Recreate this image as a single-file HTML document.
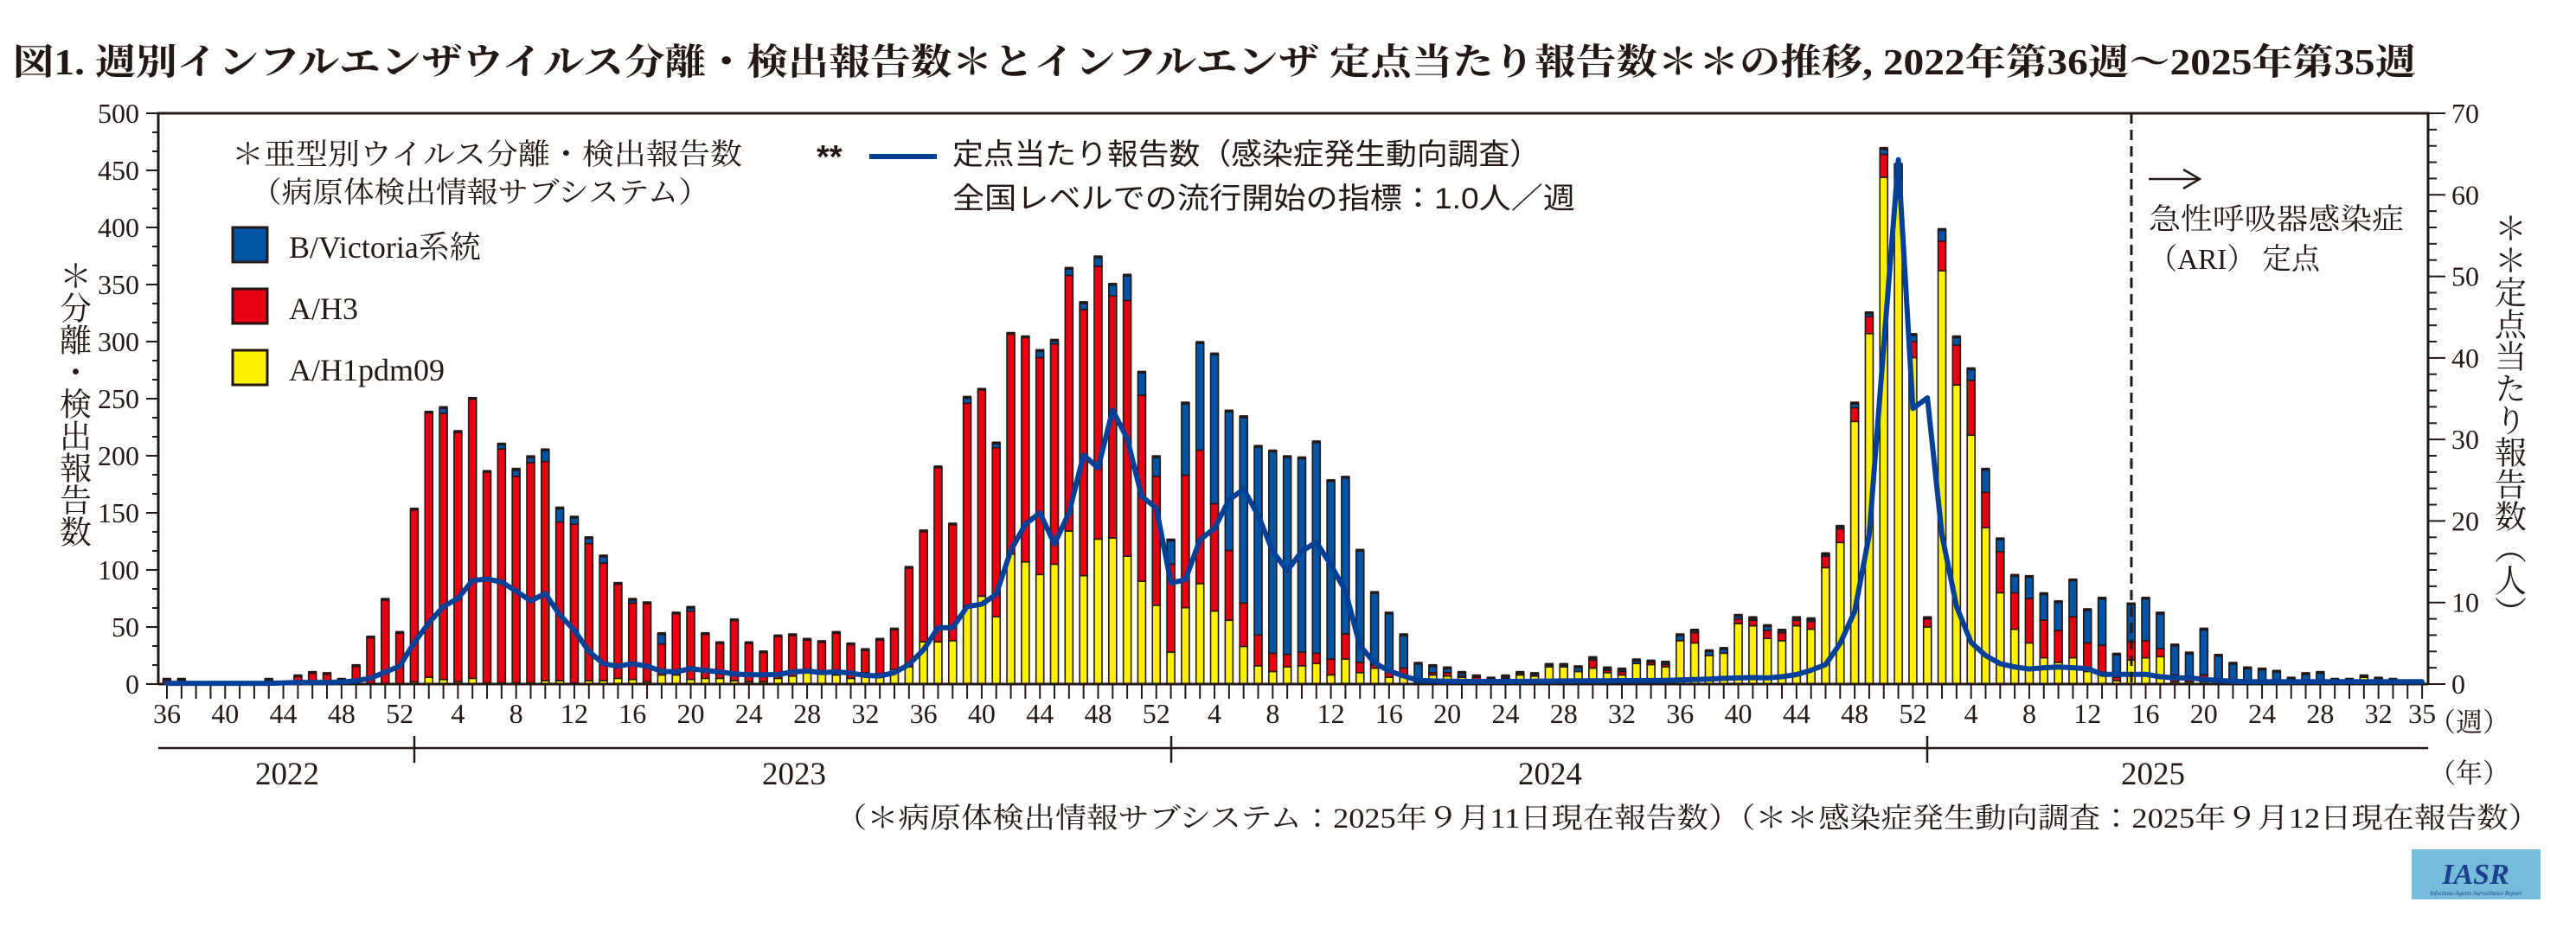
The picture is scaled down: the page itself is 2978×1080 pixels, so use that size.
<!DOCTYPE html>
<html><head><meta charset="utf-8">
<style>
html,body{margin:0;padding:0;background:#fff;}
svg{display:block;}
.s{font-family:"Liberation Serif","Noto Serif CJK JP","Noto Serif CJK SC",serif;fill:#231815;}
.g{font-family:"Liberation Sans","Noto Sans CJK JP",sans-serif;fill:#231815;}
</style></head>
<body>
<svg id="c" xmlns="http://www.w3.org/2000/svg" width="2978" height="1080" viewBox="0 0 2978 1080">
<rect width="2978" height="1080" fill="#fff"/>
<text class="s" x="15" y="86" font-size="42" font-weight="bold" textLength="2778" lengthAdjust="spacingAndGlyphs">図1. 週別インフルエンザウイルス分離・検出報告数＊とインフルエンザ 定点当たり報告数＊＊の推移, 2022年第36週～2025年第35週</text>
<g id="plot"></g>
<!-- legend left -->
<text class="s" x="268" y="190" font-size="34" textLength="590" lengthAdjust="spacingAndGlyphs">＊亜型別ウイルス分離・検出報告数</text>
<text class="s" x="290" y="234" font-size="34" textLength="530" lengthAdjust="spacingAndGlyphs">（病原体検出情報サブシステム）</text>
<rect x="269" y="263" width="40" height="40" fill="#0054a6" stroke="#231815" stroke-width="3"/>
<rect x="269" y="334" width="40" height="40" fill="#e60012" stroke="#231815" stroke-width="3"/>
<rect x="269" y="405" width="40" height="40" fill="#fff100" stroke="#231815" stroke-width="3"/>
<text class="s" x="334" y="298" font-size="36">B/Victoria系統</text>
<text class="s" x="334" y="369" font-size="36">A/H3</text>
<text class="s" x="334" y="440" font-size="36">A/H1pdm09</text>
<!-- legend middle -->
<text class="g" x="944" y="194" font-size="38" font-weight="bold">**</text>
<line x1="1005" y1="181" x2="1083" y2="181" stroke="#004098" stroke-width="6"/>
<text class="g" x="1101" y="190" font-size="34" textLength="680" lengthAdjust="spacingAndGlyphs">定点当たり報告数（感染症発生動向調査）</text>
<text class="g" x="1101" y="241" font-size="34" textLength="720" lengthAdjust="spacingAndGlyphs">全国レベルでの流行開始の指標：1.0人／週</text>
<!-- ARI -->
<line x1="2464" y1="131" x2="2464" y2="791" stroke="#231815" stroke-width="3" stroke-dasharray="12,7"/>
<line x1="2484" y1="207" x2="2542" y2="207" stroke="#231815" stroke-width="2.5"/>
<polyline points="2524,196 2543,207 2524,218" fill="none" stroke="#231815" stroke-width="2.5"/>
<text class="s" x="2484" y="265" font-size="34" textLength="295" lengthAdjust="spacingAndGlyphs">急性呼吸器感染症</text>
<text class="s" x="2484" y="311" font-size="34" textLength="198" lengthAdjust="spacingAndGlyphs">（ARI）  定点</text>
<!-- axis titles -->
<text class="s" x="83" y="300" font-size="37" style="writing-mode:vertical-rl;">＊分離・検出報告数</text>
<text class="s" x="2898" y="245" font-size="37" style="writing-mode:vertical-rl;">＊＊定点当たり報告数（人）</text>
<!-- bottom -->
<text class="s" x="2808" y="846" font-size="31">（週）</text>
<text class="s" x="2808" y="905" font-size="31">（年）</text>
<line x1="183" y1="865" x2="2807" y2="865" stroke="#231815" stroke-width="2.5"/>
<line x1="479" y1="851" x2="479" y2="882" stroke="#231815" stroke-width="2.5"/>
<line x1="1354" y1="851" x2="1354" y2="882" stroke="#231815" stroke-width="2.5"/>
<line x1="2228" y1="851" x2="2228" y2="882" stroke="#231815" stroke-width="2.5"/>
<text class="s" x="332" y="907" font-size="37" text-anchor="middle">2022</text>
<text class="s" x="918" y="907" font-size="37" text-anchor="middle">2023</text>
<text class="s" x="1792" y="907" font-size="37" text-anchor="middle">2024</text>
<text class="s" x="2489" y="907" font-size="37" text-anchor="middle">2025</text>
<text class="s" x="966" y="957" font-size="33" textLength="1970" lengthAdjust="spacingAndGlyphs">（＊病原体検出情報サブシステム：2025年９月11日現在報告数）（＊＊感染症発生動向調査：2025年９月12日現在報告数）</text>
<rect x="2788" y="982" width="149" height="58" fill="#74bcd8"/>
<text x="2862" y="1022" font-family="Liberation Serif,serif" font-style="italic" font-weight="bold" font-size="34" fill="#1d3f8f" text-anchor="middle">IASR</text>
<text x="2862" y="1035" font-family="Liberation Serif,serif" font-style="italic" font-size="7" fill="#1d3f8f" text-anchor="middle">Infectious Agents Surveillance Report</text>
</svg>
<script>
(function(){
var NS="http://www.w3.org/2000/svg",P=document.getElementById("plot");
function el(t,a,txt){var e=document.createElementNS(NS,t);for(var k in a)e.setAttribute(k,a[k]);if(txt!=null)e.textContent=txt;P.appendChild(e);return e;}
var D=[[0,4,0],[0,4,0],[0,0,0],[0,0,0],[0,0,0],[0,0,0],[0,0,0],[0,4,0],[0,0,0],[0,7,0],[0,10,0],[0,9,0],[0,4,0],[0,16,0],[0,41,0],[0,74,0],[0,45,0],
[2,151,0],[6,232,0],[4,233,5],[2,219,0],[5,245,0],[1,185,0],[1,205,4],[1,181,6],[1,193,5],[3,192,10],[3,139,12],[1,139,6],[3,120,5],[3,103,6],[5,83,0],[4,67,3],[2,69,0],[8,27,9],[8,54,0],[4,60,3],[5,39,0],[5,31,0],[3,53,0],[2,34,0],[2,26,0],[5,37,0],[7,36,0],[10,29,0],[9,28,0],[8,37,0],[5,30,0],[10,20,0],[6,33,0],[13,35,0],[15,87,0],[37,97,0],[37,153,0],[38,102,0],[68,178,5],[77,181,0],[59,148,4],[114,193,0],[107,197,0],[96,190,6],[105,193,3],[134,224,6],[95,233,6],[127,239,8],[128,212,10],[112,224,22],[90,163,20],[69,113,17],
[28,77,21],[67,116,63],[88,117,94],[64,94,131],[56,61,122],[33,38,163],[16,27,165],[11,16,177],[15,11,173],[16,12,170],[18,9,185],[8,14,156],[22,22,137],[10,9,98],[14,3,63],[6,5,51],[8,6,29],[0,0,18],[8,2,6],[7,3,4],[6,1,3],[4,2,1],[4,0,1],[5,0,2],[8,0,2],[7,0,2],[15,0,2],[15,0,2],[11,0,4],[14,7,2],[10,2,2],[8,3,2],[18,0,3],[17,2,1],[15,2,2],[38,0,5],[36,9,2],[25,0,4],[27,0,4],[53,4,3],[51,5,2],[40,7,4],[38,7,2],[51,5,2],[48,7,2],[102,10,2],[124,12,2],[230,12,4],[307,15,3],[444,20,5],[433,12,10],[286,14,6],
[50,7,1],[362,26,10],[262,35,7],[218,48,10],[137,31,20],[80,36,11],[48,32,15],[36,39,19],[23,33,23],[19,28,25],[23,36,32],[11,25,29],[8,26,41],[3,3,20],[21,16,33],[23,15,37],[24,7,31],[2,6,26],[2,5,20],[2,6,40],[0,2,23],[0,0,18],[0,0,14],[0,0,13],[0,0,11],[0,0,5],[3,0,6],[2,0,8],[0,0,4],[0,0,4],[6,0,1],[0,0,5],[0,0,4],[0,0,2],[0,0,0]];
var L=[0.1,0.1,0.1,0.1,0.1,0.1,0.1,0.1,0.15,0.2,0.2,0.2,0.25,0.39,0.73,1.46,2.2,
5.1,7.5,9.5,10.5,12.7,12.9,12.5,11.4,10.2,11.1,8.5,6.6,4.0,2.5,2.2,2.5,2.2,1.56,1.5,1.9,1.66,1.5,
1.24,1.13,1.13,1.17,1.5,1.6,1.4,1.5,1.35,1.06,1.0,1.4,2.4,4.2,6.9,6.9,9.5,9.8,11.0,16.4,19.6,21.0,17.2,21.0,28.1,26.5,33.6,30.1,23.0,21.6,
12.4,12.8,17.7,19.1,22.6,23.9,20.7,16.3,13.9,16.3,17.4,14.6,11.4,4.7,2.6,1.6,1.0,0.46,0.38,0.35,0.33,0.32,0.32,0.32,0.33,0.35,0.36,0.38,0.4,0.4,0.4,0.42,0.42,0.44,0.46,0.5,0.55,0.6,0.7,0.75,0.8,0.75,0.9,1.17,1.7,2.4,5.0,8.9,18.3,41.6,64.3,
33.8,35.1,18.3,9.5,5.1,3.5,2.5,2.1,1.85,2.0,2.1,2.0,1.9,1.2,1.2,1.2,1.2,0.9,0.75,0.75,0.57,0.44,0.35,0.3,0.3,0.3,0.3,0.3,0.3,0.3,0.3,0.3,0.3,0.3,0.3,0.3];
var X0=193,DX=16.82,Y0=791,YT=131,XL=183,XR=2807,K=(Y0-YT)/500,KR=(Y0-YT)/70;
var C="#231815";
for(var i=0;i<D.length;i++){var x=X0+i*DX-4.5,base=Y0,d=D[i],cols=["#fff100","#e60012","#0054a6"];
 var tot=d[0]+d[1]+d[2]; if(tot<=0)continue;
 for(var j=0;j<3;j++){if(d[j]<=0)continue;var h=d[j]*K;el("rect",{x:x,y:base-h,width:9,height:h,fill:cols[j],stroke:C,"stroke-width":1.6});base-=h;}
 el("rect",{x:x-0.5,y:Y0-tot*K-2,width:10,height:3.5,fill:C});
}
el("line",{x1:XL-1.5,y1:YT,x2:XR+1.5,y2:YT,stroke:C,"stroke-width":3});
el("line",{x1:XL,y1:YT,x2:XL,y2:Y0,stroke:C,"stroke-width":3});
el("line",{x1:XR,y1:YT,x2:XR,y2:Y0,stroke:C,"stroke-width":3});
el("line",{x1:XL,y1:Y0,x2:XR,y2:Y0,stroke:C,"stroke-width":3});
for(var v=0;v<=500.01;v+=50/3){var y=Y0-v*K,maj=Math.abs(v/50-Math.round(v/50))<0.01;
 el("line",{x1:maj?169:176,y1:y,x2:XL,y2:y,stroke:C,"stroke-width":2});}
for(var v=0;v<=500;v+=50){el("text",{x:161,y:Y0-v*K+11,"font-size":32,"text-anchor":"end","class":"s"},""+v);}
for(var v=0;v<=70;v+=2){var y=Y0-v*KR,maj=v%10==0;el("line",{x1:XR,y1:y,x2:maj?2827:2817,y2:y,stroke:C,"stroke-width":2});}
for(var v=0;v<=70;v+=10){el("text",{x:2834,y:Y0-v*KR+11,"font-size":32,"class":"s"},""+v);}
var wk=[];for(var w=36;w<=52;w++)wk.push(w);for(var y=0;y<2;y++)for(var w=1;w<=52;w++)wk.push(w);for(var w=1;w<=35;w++)wk.push(w);
for(var i=0;i<wk.length;i++){var x=X0+i*DX;el("line",{x1:x,y1:Y0,x2:x,y2:808,stroke:C,"stroke-width":2});
 if(wk[i]%4==0||i==155)el("text",{x:x,y:836,"font-size":32,"text-anchor":"middle","class":"s"},""+wk[i]);}
var pts=[];for(var i=0;i<L.length;i++)pts.push((X0+i*DX).toFixed(1)+","+(Y0-L[i]*KR).toFixed(1));
el("polyline",{points:pts.join(" "),fill:"none",stroke:"#004098","stroke-width":6,"stroke-linejoin":"round","stroke-linecap":"round"});
})();
</script>
</body></html>
